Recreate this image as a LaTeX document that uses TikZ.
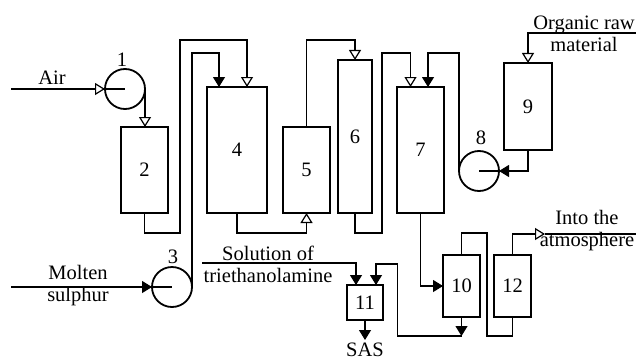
\documentclass[tikz,border=0pt]{standalone}
\usepackage{fontspec}
\setmainfont{Liberation Serif}
\usepackage{tikz}
\usetikzlibrary{arrows.meta, positioning, calc}
\tikzset{
	unit/.style ={rectangle, draw=black, line width=2.2pt, inner sep=2pt, outer sep=0pt, align=center},
	pump/.style ={circle, draw=black, line width=1.8pt, minimum size=40pt, inner sep=0pt, outer sep=0pt},
	pipe/.style ={line width=1.2pt},
	% open and filled flow arrows
	oflow/.style={pipe, -{Triangle[length=10pt, width=12pt, fill=white]}},
	fflow/.style={pipe, -{Triangle[length=10pt, width=12pt]}},
	txt/.style  ={inner sep=0pt, align=center},
}
\begin{document}
\begin{tikzpicture}[x=1pt, y=-1pt, every node/.style={font=\fontsize{20.5}{22}\selectfont}]
	\useasboundingbox (0,0) rectangle (636,361);
	% apparatus
	\node[unit, minimum width=47pt, minimum height=86pt] (b2) at (144.5,170) {2};
	\node[unit, minimum width=60pt, minimum height=126pt] (b4) at (237,150) {4};
	\node[unit, minimum width=47pt, minimum height=86pt] (b5) at (306.5,170) {5};
	\node[unit, minimum width=34pt, minimum height=153pt] (b6) at (355,136.5) {6};
	\node[unit, minimum width=47pt, minimum height=126pt] (b7) at (420.5,150) {7};
	\node[unit, minimum width=48pt, minimum height=87pt] (b9) at (528,106.5) {9};
	\node[unit, minimum width=37pt, minimum height=62pt] (b10) at (461.5,286) {10};
	\node[unit, minimum width=37pt, minimum height=62pt] (b12) at (512.5,286) {12};
	\node[unit, minimum width=36pt, minimum height=35pt] (b11) at (365,302.5) {11};
	\node[pump] (p1) at (125,89) {};
	\node[pump] (p3) at (172,287) {};
	\node[pump] (p8) at (479,171) {};
	\node[txt] (n1) at (122,60) {1};
	\node[txt] (n3) at (173,257) {3};
	\node[txt] (n8) at (481,138) {8};
	\draw[pipe] (p1.west) -- (p1.center);
	\draw[pipe] (p3.west) -- (p3.center);
	\draw[pipe] (p8.center) -- (p8.east);
	% feeds and outlets
	\coordinate (air) at (11,89);
	\coordinate (sul) at (11,287);
	\coordinate (sol) at (202,263);
	\coordinate (org) at (636,33);
	\coordinate (atm) at (636,234);
	\coordinate (atmarr) at (545,234);
	\node[txt] (tair) at (52,78) {Air};
	\node[txt] (tsul) at (78,286) {Molten\\sulphur};
	\node[txt] (tsol) at (268,264) {Solution of\\triethanolamine};
	\node[txt] (torg) at (584,34) {Organic raw\\material};
	\node[txt] (tatm) at (587,231) {Into the\\atmosphere};
	% flows
	\draw[oflow] (air) -- (p1.west);
	\draw[oflow] (p1.east) -- (p1.east |- b2.north);
	\draw[oflow] (b2.south) -- ++(0,20) -| (180,40) -| ([xshift=10pt]b4.north);
	\draw[fflow] (sul) -- (p3.west);
	\draw[fflow] (p3.east) -- ++(0,-234) -| ([xshift=-18pt]b4.north);
	\draw[oflow] (b4.south) -- ++(0,20) -| (b5.south);
	\draw[oflow] (b5.north) -- ++(0,-87) -| (b6.north);
	\draw[oflow] (b6.south) -- ++(0,20) -| ++(27,-180) -| ([xshift=-10pt]b7.north);
	\draw[fflow] (p8.west) -- ++(0,-118) -| ([xshift=7.5pt]b7.north);
	\draw[oflow] (org) -| (b9.north);
	\draw[fflow] (b9.south) |- (p8.east);
	\draw[fflow] (b7.south) |- (b10.west);
	\draw[pipe] (b10.north) -- ++(0,-22) -| ++(25.5,103) -| (b12.south);
	\draw[oflow] (b12.north) |- (atmarr);
	\draw[pipe] (atmarr) -- (atm);
	\draw[fflow] (b10.south) -- ++(0,19) coordinate (b10out);
	\draw[fflow] (b10out) -| ++(-64,-72) -| ([xshift=11pt]b11.north);
	\draw[fflow] (sol) -| ([xshift=-9pt]b11.north);
	\draw[fflow] (b11.south) -- ++(0,20) coordinate (sasarr);
	\node[txt, below=3pt of sasarr] (sas) {SAS};
\end{tikzpicture}
\end{document}
